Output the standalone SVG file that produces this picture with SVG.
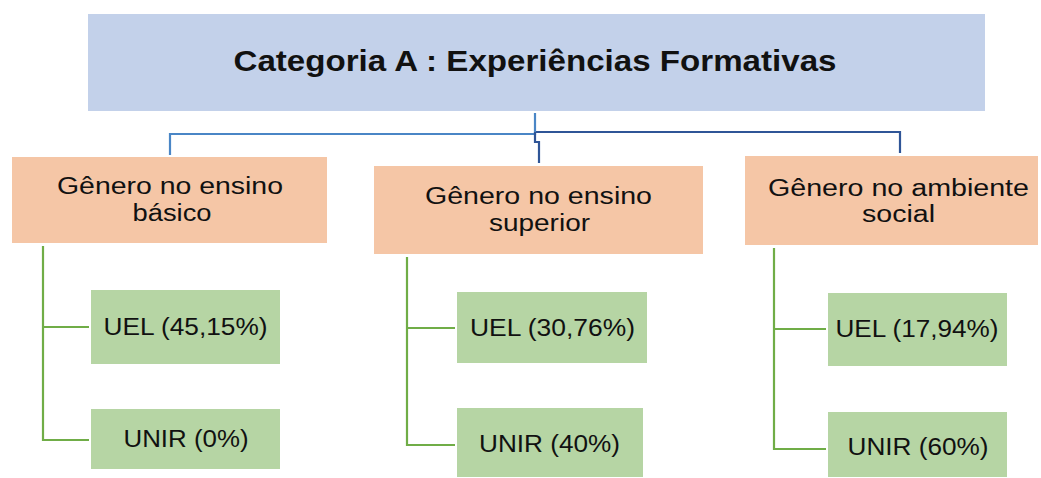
<svg xmlns="http://www.w3.org/2000/svg" width="1041" height="478" viewBox="0 0 1041 478">
<style>
.t{font-family:"Liberation Sans",Arial,sans-serif;fill:#111;text-anchor:middle}
.title{font-size:29px;font-weight:bold}
.cat{font-size:23.5px}
.leaf{font-size:23.5px}
.top{fill:#C3D1EA}
.mid{fill:#F5C6A6}
.low{fill:#B6D5A4}
.lb{fill:none;stroke:#4A86C6;stroke-width:2.2}
.db{fill:none;stroke:#2F5597;stroke-width:2.2}
.gr{fill:none;stroke:#70AD47;stroke-width:2.2}
</style>
<rect width="1041" height="478" fill="#fff"/>
<g id="connectors">
<path class="lb" d="M535,113 V135 M535,134 H170 V155"/>
<path class="db" d="M536,132 H900 V153 M535,132 V142 H539 V163"/>
<path class="gr" d="M43,246 V440 H89 M43,327 H89"/>
<path class="gr" d="M407,257 V445 H455 M407,328 H455"/>
<path class="gr" d="M774,248 V449 H826 M774,329 H826"/>
</g>
<g id="root">
<rect class="top" x="88" y="14" width="897" height="97"/>
<text class="t title" x="535" y="71" textLength="603" lengthAdjust="spacingAndGlyphs">Categoria A : Experiências Formativas</text>
</g>
<g id="cat1">
<rect class="mid" x="12" y="157" width="315" height="86"/>
<text class="t cat" x="170" y="194" textLength="226" lengthAdjust="spacingAndGlyphs">Gênero no ensino</text>
<text class="t cat" x="172" y="221" textLength="79" lengthAdjust="spacingAndGlyphs">básico</text>
</g>
<g id="cat2">
<rect class="mid" x="374" y="166" width="329" height="88"/>
<text class="t cat" x="538.5" y="204" textLength="227" lengthAdjust="spacingAndGlyphs">Gênero no ensino</text>
<text class="t cat" x="539.5" y="231" textLength="101" lengthAdjust="spacingAndGlyphs">superior</text>
</g>
<g id="cat3">
<rect class="mid" x="745" y="156" width="293" height="89"/>
<text class="t cat" x="898.5" y="195.5" textLength="261" lengthAdjust="spacingAndGlyphs">Gênero no ambiente</text>
<text class="t cat" x="898.5" y="222" textLength="73" lengthAdjust="spacingAndGlyphs">social</text>
</g>
<g id="uel1">
<rect class="low" x="91" y="290" width="189" height="74"/>
<text class="t leaf" x="185.5" y="335" textLength="164" lengthAdjust="spacingAndGlyphs">UEL (45,15%)</text>
</g>
<g id="unir1">
<rect class="low" x="91" y="409" width="189" height="60"/>
<text class="t leaf" x="186" y="447" textLength="125" lengthAdjust="spacingAndGlyphs">UNIR (0%)</text>
</g>
<g id="uel2">
<rect class="low" x="457" y="292" width="190" height="71"/>
<text class="t leaf" x="552.5" y="336" textLength="165" lengthAdjust="spacingAndGlyphs">UEL (30,76%)</text>
</g>
<g id="unir2">
<rect class="low" x="457" y="408" width="186" height="69"/>
<text class="t leaf" x="549.5" y="452" textLength="141" lengthAdjust="spacingAndGlyphs">UNIR (40%)</text>
</g>
<g id="uel3">
<rect class="low" x="828" y="293" width="179" height="73"/>
<text class="t leaf" x="917" y="337" textLength="163" lengthAdjust="spacingAndGlyphs">UEL (17,94%)</text>
</g>
<g id="unir3">
<rect class="low" x="828" y="412" width="179" height="65"/>
<text class="t leaf" x="918" y="455" textLength="141" lengthAdjust="spacingAndGlyphs">UNIR (60%)</text>
</g>
</svg>
